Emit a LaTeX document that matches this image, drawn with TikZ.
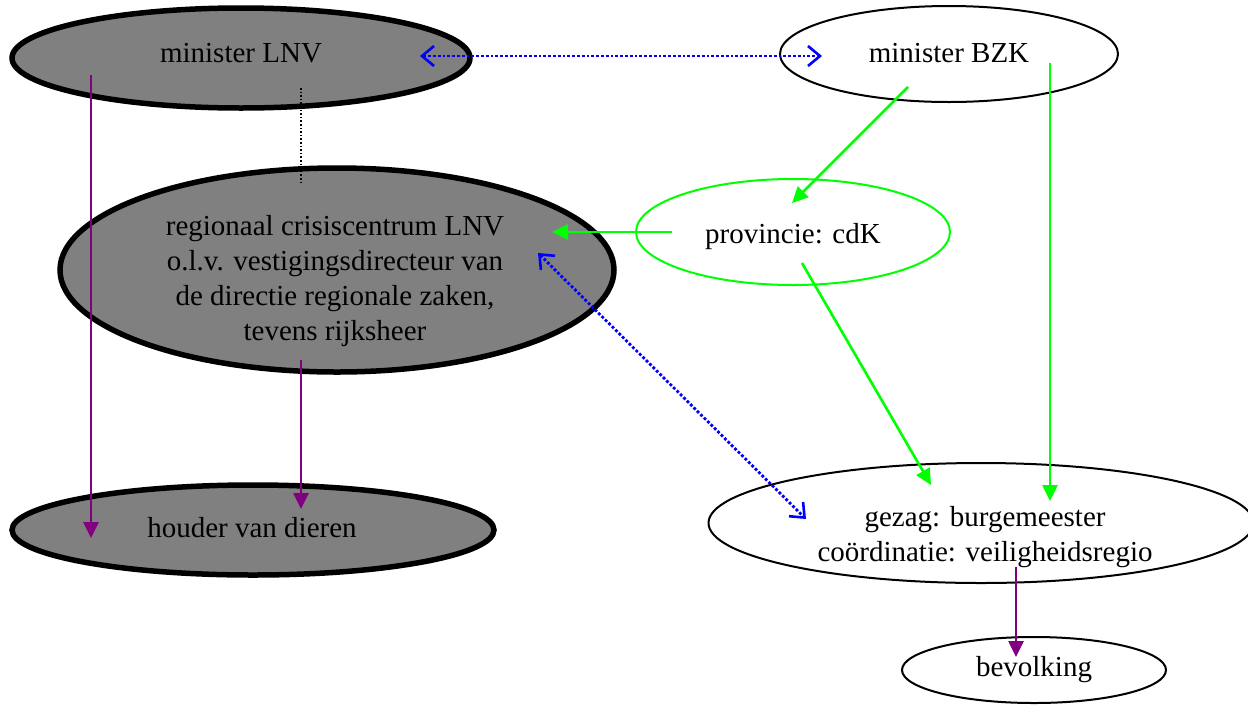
\documentclass[tikz,border=0pt]{standalone}
\usepackage{fontspec}
\setmainfont{Liberation Serif}
\usetikzlibrary{arrows.meta,shapes.geometric}
\definecolor{lgray}{RGB}{128,128,128}
\definecolor{vpurple}{RGB}{128,0,128}
\definecolor{vgreen}{RGB}{0,255,0}
\definecolor{vblue}{RGB}{0,0,255}
\tikzset{
  lbl/.style={font=\fontsize{29}{35}\selectfont, align=center, inner sep=0pt},
  ell/.style={ellipse, inner sep=0pt},
  grayell/.style={ell, draw=black, fill=lgray, line width=5.5pt},
  whiteell/.style={ell, draw=black, line width=2pt},
  greenell/.style={ell, draw=vgreen, line width=2pt},
  purplearr/.style={draw=vpurple, line width=2.6pt, -{Triangle[length=16pt,width=15pt]}},
  greenarr/.style={draw=vgreen, line width=2.6pt, -{Triangle[length=16pt,width=15pt]}},
  bluearr/.style={draw=vblue, line width=2.8pt, dotted, {Straight Barb[length=12pt,width=20pt,line width=2.6pt]}-{Straight Barb[length=12pt,width=20pt,line width=2.6pt]}},
  blackdot/.style={draw=black, line width=1.6pt, dotted}
}
\begin{document}
\begin{tikzpicture}[x=1pt,y=-1pt]
\useasboundingbox (0,0) rectangle (1248,705);
% nodes
\node[grayell, minimum width=458pt, minimum height=100pt] (lnv) at (241,58) {};
\node[lbl] (lnvt) at (241,53) {minister LNV};
\node[whiteell, minimum width=338pt, minimum height=96pt] (bzk) at (949,54) {};
\node[lbl] (bzkt) at (949,53) {minister BZK};
\node[grayell, minimum width=554pt, minimum height=204pt] (rcc) at (337,270) {};
\node[lbl] (rcct) at (335,281) {regionaal crisiscentrum LNV\\o.l.v. vestigingsdirecteur van\\de directie regionale zaken,\\tevens rijksheer};
\node[greenell, minimum width=314pt, minimum height=106pt] (prov) at (793,232) {};
\node[lbl] (provt) at (793,237) {provincie: cdK};
\node[grayell, minimum width=482pt, minimum height=90pt] (houder) at (253,530) {};
\node[lbl] (houdert) at (252,528) {houder van dieren};
\node[whiteell, minimum width=545pt, minimum height=120pt] (gezag) at (981,523) {};
\node[lbl] (gezagt) at (985,537) {gezag: burgemeester\\co\"ordinatie: veiligheidsregio};
\node[whiteell, minimum width=264pt, minimum height=66pt] (bev) at (1034,670) {};
\node[lbl] (bevt) at (1034,670) {bevolking};
% connector end points
\coordinate (b1) at (420,56);
\coordinate (b2) at (822,56);
\coordinate (d1) at (301,88);
\coordinate (d2) at (301,182);
\coordinate (p1s) at (91,75);
\coordinate (p1e) at (91,538);
\coordinate (p2s) at (301,360);
\coordinate (p2e) at (301,509);
\coordinate (p3s) at (1016,567);
\coordinate (p3e) at (1016,657);
\coordinate (g1s) at (908,87);
\coordinate (g1e) at (792,203);
\coordinate (g2s) at (1050,63);
\coordinate (g2e) at (1050,501);
\coordinate (g3s) at (672,232);
\coordinate (g3e) at (552,232);
\coordinate (g4s) at (802,263);
\coordinate (g4e) at (931,485);
\coordinate (b3) at (538,253);
\coordinate (b4) at (806,519);
% connectors
\draw[bluearr] (b1) -- (b2);
\draw[blackdot] (d1) -- (d2);
\draw[purplearr] (p1s) -- (p1e);
\draw[purplearr] (p2s) -- (p2e);
\draw[purplearr] (p3s) -- (p3e);
\draw[greenarr] (g1s) -- (g1e);
\draw[greenarr] (g2s) -- (g2e);
\draw[greenarr] (g3s) -- (g3e);
\draw[greenarr] (g4s) -- (g4e);
\draw[bluearr] (b3) -- (b4);
\end{tikzpicture}
\end{document}
